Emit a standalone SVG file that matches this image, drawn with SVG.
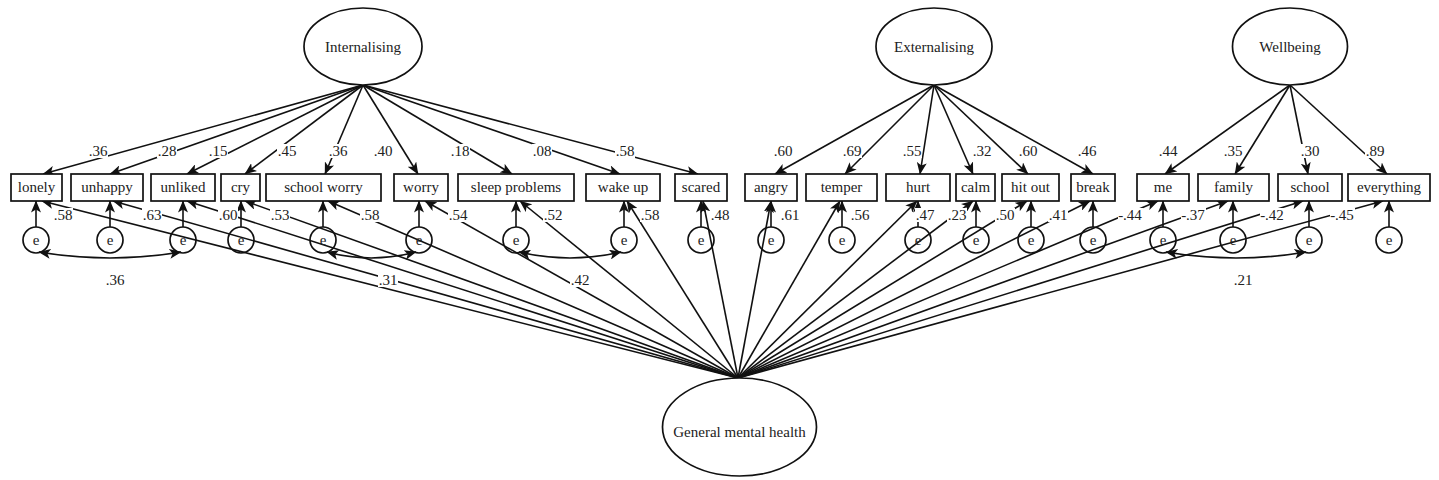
<svg xmlns="http://www.w3.org/2000/svg" width="1439" height="480" viewBox="0 0 1439 480" font-family="'Liberation Serif', 'Times New Roman', 'DejaVu Serif', serif">
<style>
text{font-family:'Liberation Serif','Times New Roman','DejaVu Serif',serif;font-size:15px;fill:#222;text-anchor:middle}
.box{fill:#fff;stroke:#111;stroke-width:1.7}
.lat{fill:#fff;stroke:#111;stroke-width:1.7}
.err{fill:none;stroke:#111;stroke-width:1.7}
.c{fill:none;stroke:#111;stroke-width:1.6;marker-end:url(#ah)}
.cov{fill:none;stroke:#111;stroke-width:1.6;marker-start:url(#ah);marker-end:url(#ah)}
.lb{fill:#fff}
</style>
<defs>
<marker id="ah" markerUnits="userSpaceOnUse" markerWidth="12" markerHeight="10" refX="11.5" refY="5" orient="auto-start-reverse">
<path d="M0,0 L12,5 L0,10 L3,5 z" fill="#111"/>
</marker>
</defs>
<rect width="1439" height="480" fill="#fff"/>

<g id="connectors">
<line class="c" x1="363" y1="85" x2="43" y2="174"/>
<line class="c" x1="363" y1="85" x2="110" y2="174"/>
<line class="c" x1="363" y1="85" x2="187" y2="174"/>
<line class="c" x1="363" y1="85" x2="245" y2="174"/>
<line class="c" x1="363" y1="85" x2="325" y2="174"/>
<line class="c" x1="363" y1="85" x2="418" y2="174"/>
<line class="c" x1="363" y1="85" x2="512" y2="174"/>
<line class="c" x1="363" y1="85" x2="620" y2="174"/>
<line class="c" x1="363" y1="85" x2="698" y2="174"/>
<line class="c" x1="934" y1="85" x2="775" y2="174"/>
<line class="c" x1="934" y1="85" x2="845" y2="174"/>
<line class="c" x1="934" y1="85" x2="920" y2="174"/>
<line class="c" x1="934" y1="85" x2="973" y2="174"/>
<line class="c" x1="934" y1="85" x2="1028" y2="174"/>
<line class="c" x1="934" y1="85" x2="1093" y2="174"/>
<line class="c" x1="1290" y1="85" x2="1165" y2="174"/>
<line class="c" x1="1290" y1="85" x2="1235" y2="174"/>
<line class="c" x1="1290" y1="85" x2="1308" y2="174"/>
<line class="c" x1="1290" y1="85" x2="1387" y2="174"/>
<line class="c" x1="738" y1="378" x2="42" y2="201"/>
<line class="c" x1="738" y1="378" x2="113" y2="201"/>
<line class="c" x1="738" y1="378" x2="187" y2="201"/>
<line class="c" x1="738" y1="378" x2="245" y2="201"/>
<line class="c" x1="738" y1="378" x2="328" y2="201"/>
<line class="c" x1="738" y1="378" x2="425" y2="201"/>
<line class="c" x1="738" y1="378" x2="520" y2="201"/>
<line class="c" x1="738" y1="378" x2="627" y2="201"/>
<line class="c" x1="738" y1="378" x2="703" y2="201"/>
<line class="c" x1="738" y1="378" x2="771" y2="201"/>
<line class="c" x1="738" y1="378" x2="840" y2="201"/>
<line class="c" x1="738" y1="378" x2="917" y2="201"/>
<line class="c" x1="738" y1="378" x2="973" y2="201"/>
<line class="c" x1="738" y1="378" x2="1027" y2="201"/>
<line class="c" x1="738" y1="378" x2="1090" y2="201"/>
<line class="c" x1="738" y1="378" x2="1158" y2="201"/>
<line class="c" x1="738" y1="378" x2="1228" y2="201"/>
<line class="c" x1="738" y1="378" x2="1303" y2="201"/>
<line class="c" x1="738" y1="378" x2="1383" y2="201"/>
<line class="c" x1="36" y1="227" x2="36" y2="201"/>
<line class="c" x1="110" y1="227" x2="110" y2="201"/>
<line class="c" x1="183" y1="227" x2="183" y2="201"/>
<line class="c" x1="241" y1="227" x2="241" y2="201"/>
<line class="c" x1="323" y1="227" x2="323" y2="201"/>
<line class="c" x1="419" y1="227" x2="419" y2="201"/>
<line class="c" x1="516" y1="227" x2="516" y2="201"/>
<line class="c" x1="624" y1="227" x2="624" y2="201"/>
<line class="c" x1="701" y1="227" x2="701" y2="201"/>
<line class="c" x1="771" y1="227" x2="771" y2="201"/>
<line class="c" x1="842" y1="227" x2="842" y2="201"/>
<line class="c" x1="918" y1="227" x2="918" y2="201"/>
<line class="c" x1="976" y1="227" x2="976" y2="201"/>
<line class="c" x1="1031" y1="227" x2="1031" y2="201"/>
<line class="c" x1="1093" y1="227" x2="1093" y2="201"/>
<line class="c" x1="1163" y1="227" x2="1163" y2="201"/>
<line class="c" x1="1233" y1="227" x2="1233" y2="201"/>
<line class="c" x1="1309" y1="227" x2="1309" y2="201"/>
<line class="c" x1="1389" y1="227" x2="1389" y2="201"/>
<path class="cov" d="M39,252 Q110,264 181,252"/>
<path class="cov" d="M327,252 Q371,264 416,252"/>
<path class="cov" d="M519,252 Q570,264 621,252"/>
<path class="cov" d="M1166,252 Q1236,264 1306,252"/>

<g id="labels">
<rect class="lb" x="88" y="144" width="20" height="14"/><text x="98" y="156">.36</text>
<rect class="lb" x="157" y="144" width="20" height="14"/><text x="167" y="156">.28</text>
<rect class="lb" x="208" y="144" width="20" height="14"/><text x="218" y="156">.15</text>
<rect class="lb" x="277" y="144" width="20" height="14"/><text x="287" y="156">.45</text>
<rect class="lb" x="328" y="144" width="20" height="14"/><text x="338" y="156">.36</text>
<rect class="lb" x="373" y="144" width="20" height="14"/><text x="383" y="156">.40</text>
<rect class="lb" x="450" y="144" width="20" height="14"/><text x="460" y="156">.18</text>
<rect class="lb" x="532" y="144" width="20" height="14"/><text x="542" y="156">.08</text>
<rect class="lb" x="615" y="144" width="20" height="14"/><text x="625" y="156">.58</text>
<rect class="lb" x="773" y="144" width="20" height="14"/><text x="783" y="156">.60</text>
<rect class="lb" x="842" y="144" width="20" height="14"/><text x="852" y="156">.69</text>
<rect class="lb" x="902" y="144" width="20" height="14"/><text x="912" y="156">.55</text>
<rect class="lb" x="972" y="144" width="20" height="14"/><text x="982" y="156">.32</text>
<rect class="lb" x="1018" y="144" width="20" height="14"/><text x="1028" y="156">.60</text>
<rect class="lb" x="1077" y="144" width="20" height="14"/><text x="1087" y="156">.46</text>
<rect class="lb" x="1158" y="144" width="20" height="14"/><text x="1168" y="156">.44</text>
<rect class="lb" x="1223" y="144" width="20" height="14"/><text x="1233" y="156">.35</text>
<rect class="lb" x="1300" y="144" width="20" height="14"/><text x="1310" y="156">.30</text>
<rect class="lb" x="1365" y="144" width="20" height="14"/><text x="1375" y="156">.89</text>

<rect class="lb" x="53" y="208" width="20" height="14"/><text x="63" y="220">.58</text>
<rect class="lb" x="142" y="208" width="20" height="14"/><text x="152" y="220">.63</text>
<rect class="lb" x="218" y="208" width="20" height="14"/><text x="228" y="220">.60</text>
<rect class="lb" x="270" y="208" width="20" height="14"/><text x="280" y="220">.53</text>
<rect class="lb" x="360" y="208" width="20" height="14"/><text x="370" y="220">.58</text>
<rect class="lb" x="448" y="208" width="20" height="14"/><text x="458" y="220">.54</text>
<rect class="lb" x="543" y="208" width="20" height="14"/><text x="553" y="220">.52</text>
<rect class="lb" x="640" y="208" width="20" height="14"/><text x="650" y="220">.58</text>
<rect class="lb" x="710" y="208" width="20" height="14"/><text x="720" y="220">.48</text>
<rect class="lb" x="780" y="208" width="20" height="14"/><text x="790" y="220">.61</text>
<rect class="lb" x="850" y="208" width="20" height="14"/><text x="860" y="220">.56</text>
<rect class="lb" x="915" y="208" width="20" height="14"/><text x="925" y="220">.47</text>
<rect class="lb" x="947" y="208" width="20" height="14"/><text x="957" y="220">.23</text>
<rect class="lb" x="995" y="208" width="20" height="14"/><text x="1005" y="220">.50</text>
<rect class="lb" x="1048" y="208" width="20" height="14"/><text x="1058" y="220">.41</text>
<rect class="lb" x="1118" y="208" width="25" height="14"/><text x="1130" y="220">-.44</text>
<rect class="lb" x="1181" y="208" width="25" height="14"/><text x="1193" y="220">-.37</text>
<rect class="lb" x="1260" y="208" width="25" height="14"/><text x="1272" y="220">-.42</text>
<rect class="lb" x="1330" y="208" width="25" height="14"/><text x="1342" y="220">-.45</text>

<text x="115" y="285">.36</text>
<rect class="lb" x="378" y="273" width="20" height="14"/><text x="388" y="285">.31</text>
<rect class="lb" x="570" y="273" width="20" height="14"/><text x="580" y="285">.42</text>
<text x="1243" y="285">.21</text>
</g>
</g>

<g id="internalising"><ellipse class="lat" cx="363" cy="46.5" rx="59" ry="38.5"/><text x="363" y="52">Internalising</text></g>
<g id="externalising"><ellipse class="lat" cx="934" cy="46.5" rx="58" ry="38.5"/><text x="934" y="52">Externalising</text></g>
<g id="wellbeing"><ellipse class="lat" cx="1290" cy="46.5" rx="57.5" ry="38.5"/><text x="1290" y="52">Wellbeing</text></g>
<g id="general"><ellipse class="lat" cx="739.5" cy="427" rx="77" ry="49"/><text x="739.5" y="437">General mental health</text></g>

<g id="lonely"><rect class="box" x="11" y="174" width="51" height="27"/><text x="36.5" y="192">lonely</text></g>
<g id="unhappy"><rect class="box" x="71" y="174" width="72" height="27"/><text x="107" y="192">unhappy</text></g>
<g id="unliked"><rect class="box" x="151" y="174" width="64" height="27"/><text x="183" y="192">unliked</text></g>
<g id="cry"><rect class="box" x="221" y="174" width="39" height="27"/><text x="240.5" y="192">cry</text></g>
<g id="schoolworry"><rect class="box" x="266" y="174" width="115" height="27"/><text x="323.5" y="192">school worry</text></g>
<g id="worry"><rect class="box" x="394" y="174" width="54" height="27"/><text x="421" y="192">worry</text></g>
<g id="sleep"><rect class="box" x="458" y="174" width="116" height="27"/><text x="516" y="192">sleep problems</text></g>
<g id="wakeup"><rect class="box" x="586" y="174" width="74" height="27"/><text x="623" y="192">wake up</text></g>
<g id="scared"><rect class="box" x="675" y="174" width="52" height="27"/><text x="701" y="192">scared</text></g>
<g id="angry"><rect class="box" x="745" y="174" width="52" height="27"/><text x="771" y="192">angry</text></g>
<g id="temper"><rect class="box" x="806" y="174" width="71" height="27"/><text x="841.5" y="192">temper</text></g>
<g id="hurt"><rect class="box" x="886" y="174" width="64" height="27"/><text x="918" y="192">hurt</text></g>
<g id="calm"><rect class="box" x="956" y="174" width="39" height="27"/><text x="975.5" y="192">calm</text></g>
<g id="hitout"><rect class="box" x="1002" y="174" width="57" height="27"/><text x="1030.5" y="192">hit out</text></g>
<g id="break"><rect class="box" x="1071" y="174" width="44" height="27"/><text x="1093" y="192">break</text></g>
<g id="me"><rect class="box" x="1137" y="174" width="52" height="27"/><text x="1163" y="192">me</text></g>
<g id="family"><rect class="box" x="1198" y="174" width="71" height="27"/><text x="1233.5" y="192">family</text></g>
<g id="school"><rect class="box" x="1278" y="174" width="64" height="27"/><text x="1310" y="192">school</text></g>
<g id="everything"><rect class="box" x="1348" y="174" width="82" height="27"/><text x="1389" y="192">everything</text></g>

<g id="errors">
<g id="e1"><circle class="err" cx="36" cy="240" r="13"/><text x="36" y="245">e</text></g>
<g id="e2"><circle class="err" cx="110" cy="240" r="13"/><text x="110" y="245">e</text></g>
<g id="e3"><circle class="err" cx="183" cy="240" r="13"/><text x="183" y="245">e</text></g>
<g id="e4"><circle class="err" cx="241" cy="240" r="13"/><text x="241" y="245">e</text></g>
<g id="e5"><circle class="err" cx="323" cy="240" r="13"/><text x="323" y="245">e</text></g>
<g id="e6"><circle class="err" cx="419" cy="240" r="13"/><text x="419" y="245">e</text></g>
<g id="e7"><circle class="err" cx="516" cy="240" r="13"/><text x="516" y="245">e</text></g>
<g id="e8"><circle class="err" cx="624" cy="240" r="13"/><text x="624" y="245">e</text></g>
<g id="e9"><circle class="err" cx="701" cy="240" r="13"/><text x="701" y="245">e</text></g>
<g id="e10"><circle class="err" cx="771" cy="240" r="13"/><text x="771" y="245">e</text></g>
<g id="e11"><circle class="err" cx="842" cy="240" r="13"/><text x="842" y="245">e</text></g>
<g id="e12"><circle class="err" cx="918" cy="240" r="13"/><text x="918" y="245">e</text></g>
<g id="e13"><circle class="err" cx="976" cy="240" r="13"/><text x="976" y="245">e</text></g>
<g id="e14"><circle class="err" cx="1031" cy="240" r="13"/><text x="1031" y="245">e</text></g>
<g id="e15"><circle class="err" cx="1093" cy="240" r="13"/><text x="1093" y="245">e</text></g>
<g id="e16"><circle class="err" cx="1163" cy="240" r="13"/><text x="1163" y="245">e</text></g>
<g id="e17"><circle class="err" cx="1233" cy="240" r="13"/><text x="1233" y="245">e</text></g>
<g id="e18"><circle class="err" cx="1309" cy="240" r="13"/><text x="1309" y="245">e</text></g>
<g id="e19"><circle class="err" cx="1389" cy="240" r="13"/><text x="1389" y="245">e</text></g>
</g>
</svg>
